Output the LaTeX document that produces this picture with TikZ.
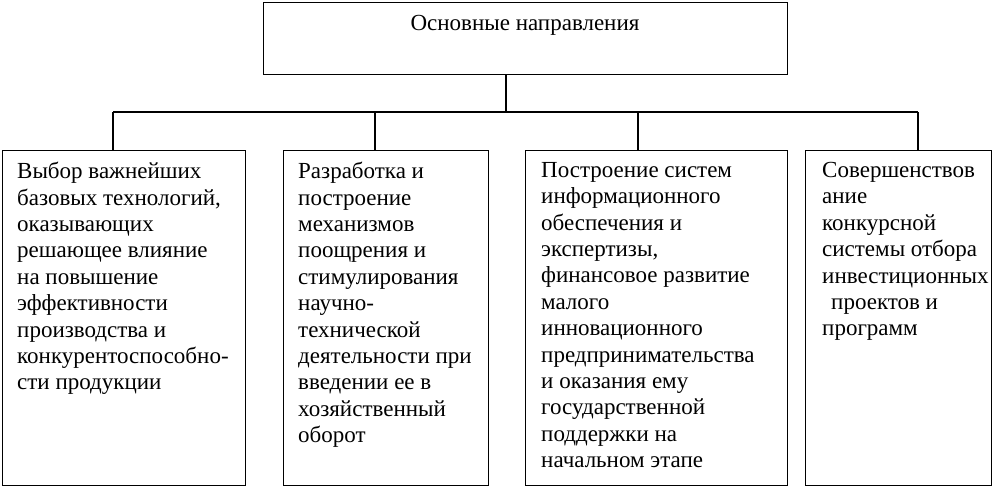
\documentclass[tikz,border=0pt]{standalone}
\usepackage{fontspec}
\setmainfont{Liberation Serif}
\begin{document}
\begin{tikzpicture}[x=1pt,y=-1pt,
  box/.style={draw,line width=1.4pt,inner sep=0pt,anchor=north west},
  conn/.style={line width=1.4pt},
  txt/.style={inner sep=0pt,anchor=north west,align=left,font=\fontsize{23}{26.4}\selectfont},
  ttl/.style={inner sep=0pt,font=\fontsize{23}{26.4}\selectfont}]
\useasboundingbox (0,0) rectangle (994,487);
% boxes
\node[box,minimum width=524pt,minimum height=72pt] (t) at (263,2) {};
\node[box,minimum width=243pt,minimum height=335pt] (b1) at (2,150) {};
\node[box,minimum width=205pt,minimum height=335pt] (b2) at (283,150) {};
\node[box,minimum width=262pt,minimum height=335pt] (b3) at (525,150) {};
\node[box,minimum width=186pt,minimum height=335pt] (b4) at (805,150) {};
% texts
\node[ttl] (tl) at (525,25) {Основные направления};
\node[txt] (l1) at (17,162) {Выбор важнейших\\базовых технологий,\\оказывающих\\решающее влияние\\на повышение\\эффективности\\производства и\\конкурентоспособно-\\сти продукции};
\node[txt] (l2) at (298,162) {Разработка и\\построение\\механизмов\\поощрения и\\стимулирования\\научно-\\технической\\деятельности при\\введении ее в\\хозяйственный\\оборот};
\node[txt] (l3) at (541,162) {Построение систем\\информационного\\обеспечения и\\экспертизы,\\финансовое развитие\\малого\\инновационного\\предпринимательства\\и оказания ему\\государственной\\поддержки на\\начальном этапе};
\node[txt] (l4) at (822,162) {Совершенствов\\ание\\конкурсной\\системы отбора\\инвестиционных\\\hspace*{9pt}проектов и\\программ};
% connectors
\coordinate (d1) at (113,112);
\coordinate (d2) at (375,112);
\coordinate (d3) at (638,112);
\coordinate (d4) at (918,112);
\draw[conn] (t.south -| 506,0) -- (506,112);
\draw[conn] (d1) -- (d4);
\draw[conn] (d1) -- (d1 |- b1.north);
\draw[conn] (d2) -- (d2 |- b2.north);
\draw[conn] (d3) -- (d3 |- b3.north);
\draw[conn] (d4) -- (d4 |- b4.north);
\end{tikzpicture}
\end{document}
